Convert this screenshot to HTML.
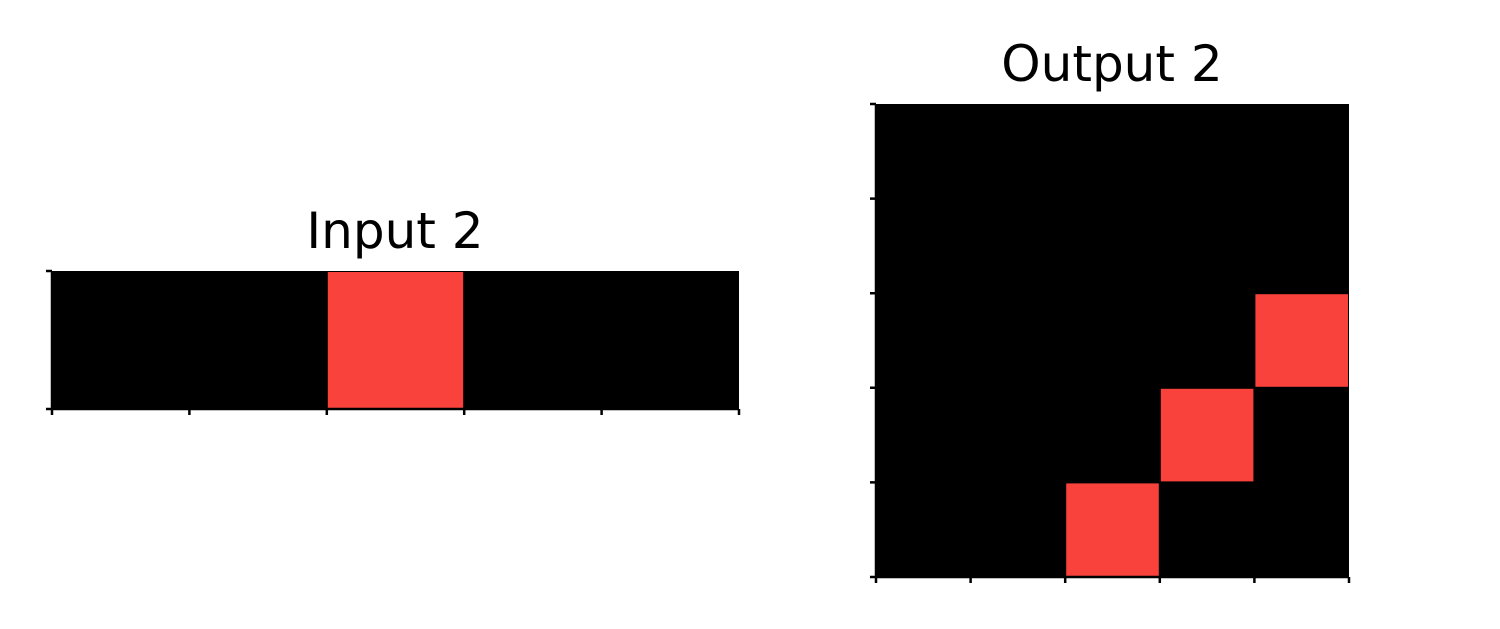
<!DOCTYPE html>
<html><head><meta charset="utf-8"><style>
html,body{margin:0;padding:0;background:#fff;}
svg{display:block;}
text{font-family:"DejaVu Sans","Liberation Sans",sans-serif;font-size:50px;fill:#000;}
</style></head><body>
<svg id="chart" width="1500" height="629" viewBox="0 0 1500 629" xmlns="http://www.w3.org/2000/svg">
<text x="395" y="248" text-anchor="middle">Input 2</text>
<text x="1112" y="81" text-anchor="middle">Output 2</text>
<g id="inputG"></g>
<g id="outputG"></g>
</svg>
<script>
const inputGrid = [[0,0,2,0,0]];
const outputGrid = [
  [0,0,0,0,0],
  [0,0,0,0,0],
  [0,0,0,0,2],
  [0,0,0,2,0],
  [0,0,2,0,0]
];
const palette = {0:'#000000', 2:'#f9423b'};
const NS='http://www.w3.org/2000/svg';
function draw(g, grid, x0, y0, x1, y1, prefix){
  const rows=grid.length, cols=grid[0].length;
  const cw=(x1-x0)/cols, ch=(y1-y0)/rows;
  const bg=document.createElementNS(NS,'rect');
  bg.setAttribute('x',x0);bg.setAttribute('y',y0);bg.setAttribute('width',x1-x0);bg.setAttribute('height',y1-y0);bg.setAttribute('fill','#000');
  
  
  g.appendChild(bg);
  grid.forEach((row,r)=>row.forEach((v,c)=>{
    if(v===0) return;
    const rc=document.createElementNS(NS,'rect');
    rc.setAttribute('x',x0+c*cw+1);rc.setAttribute('y',y0+r*ch+1);
    rc.setAttribute('width',cw-2);rc.setAttribute('height',ch-2);
    rc.setAttribute('fill',palette[v]);
    
    
    g.appendChild(rc);
  }));
  const ax=document.createElementNS(NS,'path');
  let d=`M${x0},${y0}V${y1}H${x1}`;
  for(let c=0;c<=cols;c++){const x=x0+c*cw;d+=`M${x},${y1}v6`;}
  for(let r=0;r<=rows;r++){const y=y0+r*ch;d+=`M${x0},${y}h-6`;}
  ax.setAttribute('d',d);ax.setAttribute('stroke','#000');ax.setAttribute('stroke-width','2.5');ax.setAttribute('fill','none');
  
  
  g.appendChild(ax);
}
draw(document.getElementById('inputG'), inputGrid, 52, 271, 739, 409, 'input');
draw(document.getElementById('outputG'), outputGrid, 876, 104, 1349, 577, 'output');
</script>
</body></html>
